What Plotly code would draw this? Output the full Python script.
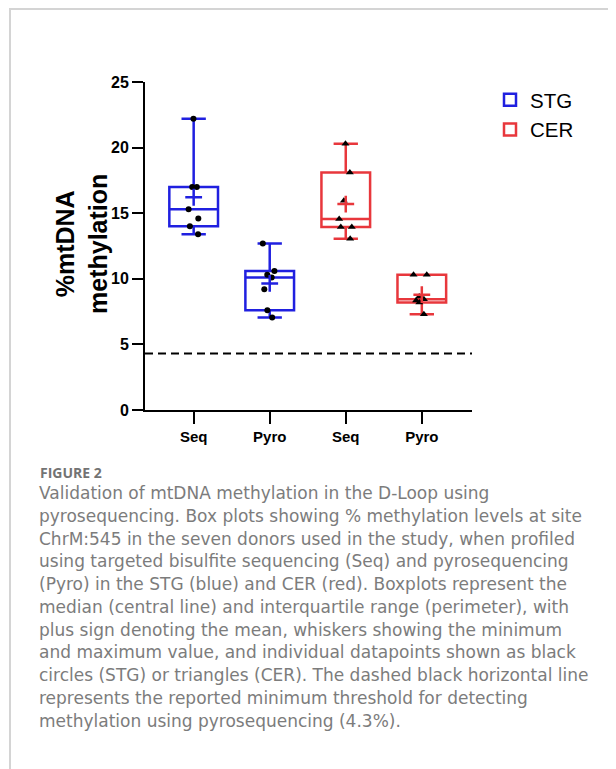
import numpy as np
import plotly.graph_objects as go

# ---------------- data ----------------
tick_labels = ["Seq", "Pyro", "Seq", "Pyro"]
tissues = ["STG", "CER"]

stg_seq = [22.2, 17.0, 17.0, 15.3, 14.6, 14.0, 13.4]
stg_pyro = [12.7, 10.6, 10.3, 10.1, 9.2, 7.6, 7.05]
cer_seq = [20.3, 18.1, 15.95, 14.55, 13.95, 13.95, 13.05]
cer_pyro = [10.3, 10.3, 8.65, 8.45, 8.35, 8.2, 7.3]

threshold = 4.3

y_title_lines = ["%mtDNA", "methylation"]
caption_title = "FIGURE 2"
caption_lines = [
    "Validation of mtDNA methylation in the D-Loop using",
    "pyrosequencing. Box plots showing % methylation levels at site",
    "ChrM:545 in the seven donors used in the study, when profiled",
    "using targeted bisulfite sequencing (Seq) and pyrosequencing",
    "(Pyro) in the STG (blue) and CER (red). Boxplots represent the",
    "median (central line) and interquartile range (perimeter), with",
    "plus sign denoting the mean, whiskers showing the minimum",
    "and maximum value, and individual datapoints shown as black",
    "circles (STG) or triangles (CER). The dashed black horizontal line",
    "represents the reported minimum threshold for detecting",
    "methylation using pyrosequencing (4.3%).",
]

# ---------------- style ----------------
BLUE = "#2020e0"
RED = "#e8373c"
OFF = 8                      # page body margin
W, H = 616 - OFF, 769 - OFF
ML, MR, MT, MB = 145 - OFF, 144, 82 - OFF, 359
PH = H - MT - MB
PW = W - ML - MR
AX_FONT = "Liberation Sans, Arial, sans-serif"
CAP_FONT = "DejaVu Sans, sans-serif"


def py(ypage):
    return (H - MB - (ypage - OFF)) / PH


def px(xpage):
    return (xpage - OFF - ML) / PW


def stats(v):
    a = np.sort(np.array(v, dtype=float))
    n = len(a)
    med = float(np.median(a))
    lo = a[: n // 2]
    hi = a[(n + 1) // 2:]
    return float(np.median(lo)), med, float(np.median(hi)), float(a.min()), float(a.max()), float(a.mean())


fig = go.Figure()

groups = [
    ("STG", [stg_seq, stg_pyro], [0, 1], BLUE, "circle", 6),
    ("CER", [cer_seq, cer_pyro], [2, 3], RED, "triangle-up", 7),
]

for name, samples, xs, col, sym, msize in groups:
    st = [stats(s) for s in samples]
    fig.add_trace(go.Box(
        name=name,
        x=xs,
        y=samples,
        q1=[s[0] for s in st],
        median=[s[1] for s in st],
        q3=[s[2] for s in st],
        lowerfence=[s[3] for s in st],
        upperfence=[s[4] for s in st],
        boxpoints="all",
        jitter=0.35,
        pointpos=0,
        width=0.64,
        whiskerwidth=0.5,
        line=dict(color=col, width=2.5),
        fillcolor="rgba(255,255,255,0)",
        marker=dict(color="black", symbol=sym, size=msize, line=dict(width=0)),
        hoverinfo="skip",
    ))
    fig.add_trace(go.Scatter(
        x=xs,
        y=[s[5] for s in st],
        mode="markers",
        marker=dict(symbol="cross-thin", size=12, line=dict(color=col, width=2.5)),
        showlegend=False,
        hoverinfo="skip",
    ))

fig.add_shape(type="line", xref="x", yref="y", x0=-0.64, x1=3.66, y0=threshold, y1=threshold,
              line=dict(color="black", width=2, dash="8px,5px"))

# frame lines
fig.add_shape(type="line", xref="paper", yref="paper", x0=px(9), x1=px(616), y0=py(9), y1=py(9),
              line=dict(color="#d4d4d4", width=2))
fig.add_shape(type="line", xref="paper", yref="paper", x0=px(10), x1=px(10), y0=py(9), y1=py(769),
              line=dict(color="#d4d4d4", width=2))

anns = [
    dict(text="<b>" + "<br>".join(y_title_lines) + "</b>", x=px(81), y=py(244), xref="paper", yref="paper",
         xanchor="center", yanchor="middle", textangle=-90, showarrow=False,
         font=dict(family=AX_FONT, size=25, color="black")),
    dict(text="<b>" + caption_title + "</b>", x=px(38), y=py(472), xref="paper", yref="paper",
         xanchor="left", yanchor="middle", showarrow=False,
         font=dict(family="Open Sans, sans-serif", size=14, color="#737373")),
]
for i, line in enumerate(caption_lines):
    anns.append(dict(text=line, x=px(37), y=py(493 + 22.75 * i), xref="paper", yref="paper",
                     xanchor="left", yanchor="middle", showarrow=False,
                     font=dict(family=CAP_FONT, size=17, color="#7c7c7c")))

fig.update_layout(
    width=W, height=H,
    margin=dict(l=ML, r=MR, t=MT, b=MB, pad=0),
    paper_bgcolor="white", plot_bgcolor="white",
    boxmode="overlay",
    showlegend=True,
    legend=dict(x=px(490), y=py(80), xanchor="left", yanchor="top",
                font=dict(family=AX_FONT, size=20.5, color="black"),
                traceorder="normal", bgcolor="rgba(0,0,0,0)"),
    annotations=anns,
    xaxis=dict(range=[-0.64, 3.66], tickvals=[0, 1, 2, 3], ticktext=["<b>%s</b>" % t for t in tick_labels],
               showline=True, linecolor="black", linewidth=2, ticks="outside", ticklen=12, tickwidth=2,
               tickcolor="black", showgrid=False, zeroline=False,
               tickfont=dict(family=AX_FONT, size=15, color="black")),
    yaxis=dict(range=[0, 25], tickvals=[0, 5, 10, 15, 20, 25], ticktext=["<b>%d</b>" % v for v in [0, 5, 10, 15, 20, 25]],
               showline=True, linecolor="black", linewidth=2, ticks="outside", ticklen=11, tickwidth=2,
               tickcolor="black", showgrid=False, zeroline=False,
               tickfont=dict(family=AX_FONT, size=16, color="black")),
)

fig.write_html("out.html")
